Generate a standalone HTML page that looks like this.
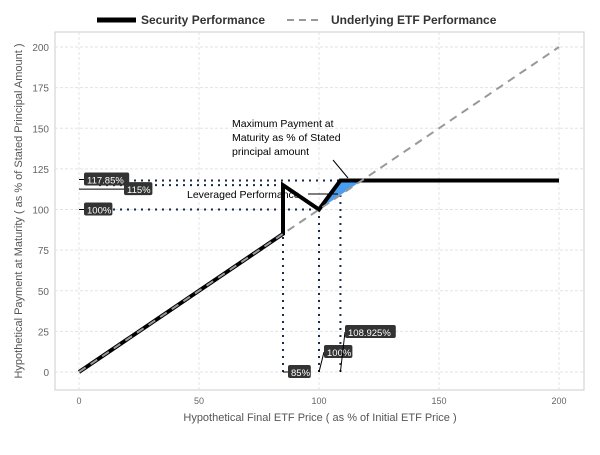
<!DOCTYPE html>
<html><head><meta charset="utf-8"><style>
body{margin:0;background:#fff;font-family:"Liberation Sans",sans-serif}
svg text{font-family:"Liberation Sans",sans-serif}
</style></head><body>
<svg width="600" height="450" xmlns="http://www.w3.org/2000/svg">
<g id="legend">
 <line x1="97" y1="20" x2="136" y2="20" stroke="#000" stroke-width="5"/>
 <text x="141" y="24" font-size="12" font-weight="bold" fill="#333">Security Performance</text>
 <line x1="287" y1="20" x2="322" y2="20" stroke="#999" stroke-width="2" stroke-dasharray="7,5"/>
 <text x="331" y="24" font-size="12" font-weight="bold" fill="#333">Underlying ETF Performance</text>
</g>
<rect x="55" y="32" width="529" height="358" fill="#fff" stroke="#ccc"/>
<g id="grid"></g><g id="axes"></g><g id="marks"></g><g id="ann"></g>
<text x="320" y="421" font-size="11" fill="#555" text-anchor="middle">Hypothetical Final ETF Price ( as % of Initial ETF Price )</text>
<text transform="translate(22,211) rotate(-90)" font-size="11" fill="#555" text-anchor="middle">Hypothetical Payment at Maturity ( as % of Stated Principal Amount )</text>
</svg>
<script>
const xTicks=[0,50,100,150,200];
const yTicks=[0,25,50,75,100,125,150,175,200];
const secX=[0,85,85,100,108.925,200];
const secY=[0,85,115,100,117.85,117.85];
const etfX=[0,200];
const etfY=[0,200];
const fillX=[100,108.925,117.85];
const fillY=[100,117.85,117.85];
const hLevels=[117.85,115,100];
const hLevelX=[108.925,85,100];
const hLabels=["117.85%","115%","100%"];
const vLevels=[85,100,108.925];
const vLabels=["85%","100%","108.925%"];
const NS="http://www.w3.org/2000/svg";
const X=v=>79+v*2.4, Y=v=>372-v*1.625;
function mk(t,a,p){const e=document.createElementNS(NS,t);for(const k in a)e.setAttribute(k,a[k]);p.appendChild(e);return e;}
const G=document.getElementById('grid'),A=document.getElementById('axes'),M=document.getElementById('marks'),N=document.getElementById('ann');
xTicks.forEach(t=>{const l=mk('line',{x1:X(t),x2:X(t),y1:32,y2:390,stroke:'#e3e3e3','stroke-dasharray':'3,2'},G);

const tx=mk('text',{x:X(t),y:404,'font-size':9,fill:'#666','text-anchor':'middle'},A);tx.textContent=t;
});
yTicks.forEach(t=>{const l=mk('line',{x1:55,x2:584,y1:Y(t),y2:Y(t),stroke:'#e3e3e3','stroke-dasharray':'3,2'},G);

const tx=mk('text',{x:49,y:Y(t)+4,'font-size':10,fill:'#666','text-anchor':'end'},A);tx.textContent=t;
});
hLevels.forEach((v,i)=>{const l=mk('line',{x1:X(0)+20,x2:X(hLevelX[i]),y1:Y(v),y2:Y(v),stroke:'#1a2a4a','stroke-width':2,'stroke-dasharray':'2,5'},M);
});
const secAt=x=>{for(let i=0;i<secX.length-1;i++){if(x>=secX[i]&&x<=secX[i+1]&&secX[i]!=secX[i+1])return secY[i]+(secY[i+1]-secY[i])*(x-secX[i])/(secX[i+1]-secX[i]);}return x;};
vLevels.forEach((v,i)=>{const top=i==0?115:secAt(v);const l=mk('line',{x1:X(v),x2:X(v),y1:Y(0),y2:Y(top),stroke:'#1a2a4a','stroke-width':2,'stroke-dasharray':'2,5'},M);
});
const fp=mk('polygon',{points:fillX.map((x,i)=>X(x)+','+Y(fillY[i])).join(' '),fill:'#4a9ef0'},M);

const sp=mk('polyline',{points:secX.map((x,i)=>X(x)+','+Y(secY[i])).join(' '),fill:'none',stroke:'#000','stroke-width':4},M);

const ep=mk('polyline',{points:etfX.map((x,i)=>X(x)+','+Y(etfY[i])).join(' '),fill:'none',stroke:'#999','stroke-width':2,'stroke-dasharray':'8,6'},M);

function label(x,y,txt,name){const w=txt.length*5.6+6;mk('rect',{x:x,y:y-7,width:w,height:13,rx:2,fill:'#333'},N);
const t=mk('text',{x:x+3,y:y+4,'font-size':9.5,fill:'#fff'},N);t.textContent=txt;
}
const hLabX=[84,124,84],hOff=[-1,4,0];
hLevels.forEach((v,i)=>{mk('line',{x1:X(0),x2:hLabX[i],y1:Y(v)+hOff[i],y2:Y(v)+hOff[i],stroke:'#000'},N);label(hLabX[i],Y(v)+hOff[i],hLabels[i],'y-value-label');});
const vLab=[[288,372],[324,352],[345,332]];
vLevels.forEach((v,i)=>{mk('line',{x1:X(v),x2:vLab[i][0],y1:Y(0),y2:vLab[i][1],stroke:'#000'},N);label(vLab[i][0],vLab[i][1],vLabels[i],'x-value-label');});
const a1=mk('text',{x:232,y:127,'font-size':10.5,fill:'#000'},N);a1.innerHTML='<tspan x="232">Maximum Payment at</tspan><tspan x="232" dy="14">Maturity as % of Stated</tspan><tspan x="232" dy="14">principal amount</tspan>';

mk('line',{x1:333,y1:160,x2:348,y2:178,stroke:'#000'},N);
const a2=mk('text',{x:187,y:198,'font-size':10.5,fill:'#000'},N);a2.textContent='Leveraged Performance';

mk('line',{x1:308,y1:194,x2:338,y2:194,stroke:'#000'},N);
</script>
</body></html>
